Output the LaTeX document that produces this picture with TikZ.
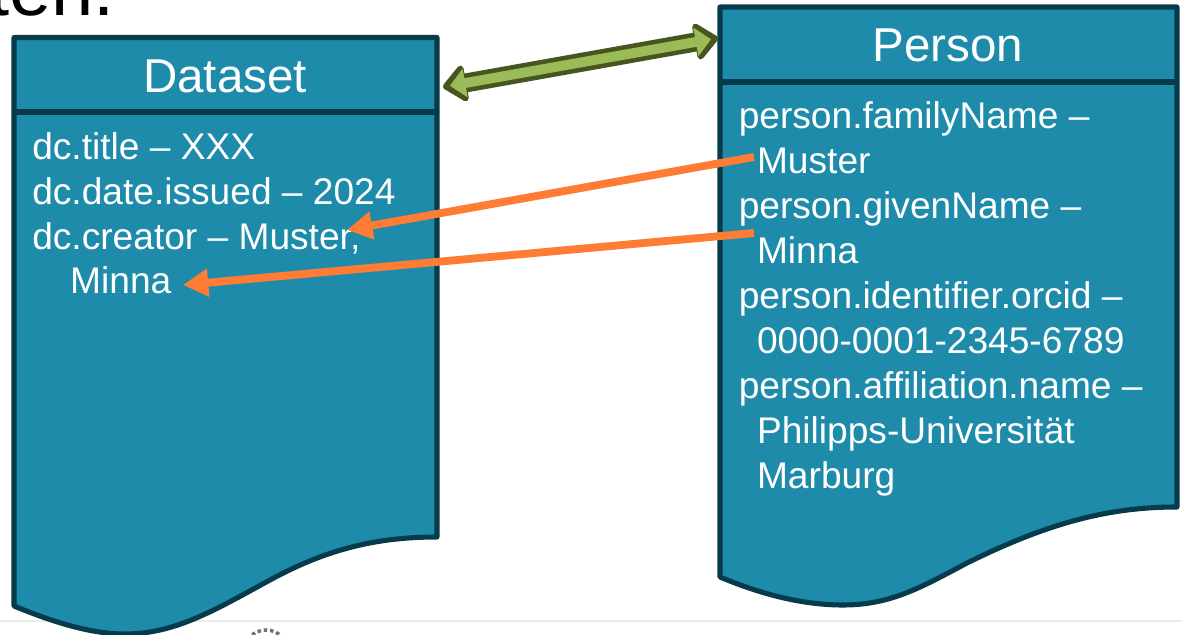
\documentclass[tikz,border=0pt]{standalone}
\usepackage{fontspec}
\setmainfont{Liberation Sans}
\usetikzlibrary{arrows.meta}
\definecolor{boxfill}{HTML}{1D8BA9}
\definecolor{boxline}{HTML}{063B4C}
\definecolor{linkfill}{HTML}{9BBB59}
\definecolor{linkline}{HTML}{47551F}
\definecolor{mapcolor}{HTML}{FF7C35}
\tikzset{
  docbox/.style={draw=boxline, fill=boxfill, line width=3.6pt, line join=round},
  headline/.style={draw=boxline, line width=3.6pt},
  headtext/.style={text=white, inner sep=0pt, anchor=base, font=\fontsize{33.8}{40}\selectfont},
  bodytext/.style={text=white, inner sep=0pt, anchor=base west, align=left, font=\fontsize{26.4}{32}\selectfont},
  linkouter/.style={draw=linkline, line width=13.5pt, {Triangle[round,length=18pt,width=30pt]}-{Triangle[round,length=18pt,width=30pt]}},
  linkinner/.style={draw=linkfill, line width=7pt, shorten <=5pt, shorten >=5pt, {Triangle[length=11pt,width=20pt]}-{Triangle[length=11pt,width=20pt]}},
  maparrow/.style={draw=mapcolor, fill=mapcolor, line width=5.6pt, -{Triangle[length=18pt,width=19pt]}}
}
\begin{document}
\begin{tikzpicture}[x=0.025cm, y=-0.025cm]
    \clip (0,0) rectangle (1182,635);

    % slide remains
    \draw[black!8, line width=1.2pt] (0,621) -- (1182,621);
    \draw[black!55, line width=2.5pt, dotted] (266,652) circle (22);
    \node[anchor=base east, inner sep=0pt, font=\fontsize{54}{60}\selectfont] (slidetext) at (115,16) {ten.};

    % dataset
    \draw[docbox] (14,37.5) -- (437,37.5) -- (437,537)
        .. controls (375,537) and (325,550) .. (270,580)
        .. controls (215,610) and (175,634) .. (125,634)
        .. controls (95,634) and (60,625) .. (14,606) -- cycle;
    \draw[headline] (14,112) -- (437,112);
    \node[headtext] (datasethead) at (225,93) {Dataset};
    \node[bodytext] (datasetbody) at (32,294) {dc.title – XXX\\
        dc.date.issued – 2024\\
        dc.creator – Muster,\\
        \hspace*{27pt}Minna};

    % person
    \draw[docbox] (720,7) -- (1177,7) -- (1177,507)
        .. controls (1110,507) and (1050,522) .. (967,563)
        .. controls (920,588) and (890,605) .. (843,605)
        .. controls (810,605) and (770,598) .. (720,577) -- cycle;
    \draw[headline] (720,82) -- (1177,82);
    \node[headtext] (personhead) at (948,62) {Person};
    \node[bodytext] (personbody) at (738.5,488) {person.familyName –\\
        \hspace*{13pt}Muster\\
        person.givenName –\\
        \hspace*{13pt}Minna\\
        person.identifier.orcid –\\
        \hspace*{13pt}0000-0001-2345-6789\\
        person.affiliation.name –\\
        \hspace*{13pt}Philipps-Universität\\
        \hspace*{13pt}Marburg};

    \coordinate (linkdataset) at (443,87);
    \coordinate (linkperson) at (718,38);
    \draw[linkouter] (linkdataset) -- (linkperson);
    \draw[linkinner] (linkdataset) -- (linkperson);

    \coordinate (familyfrom) at (754,157);
    \coordinate (familyto) at (347,230);
    \coordinate (givenfrom) at (754,233);
    \coordinate (givento) at (183,285);
    \draw[maparrow] (familyfrom) -- (familyto);
    \draw[maparrow] (givenfrom) -- (givento);
\end{tikzpicture}
\end{document}
